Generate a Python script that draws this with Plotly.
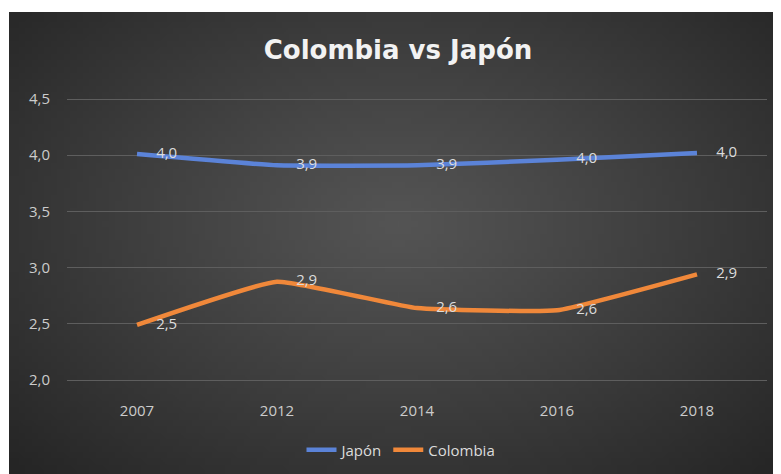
import base64, struct, zlib
import plotly.graph_objects as go

# ---- data ----
years = ["2007", "2012", "2014", "2016", "2018"]
japon = [4.01, 3.91, 3.91, 3.96, 4.02]
colombia = [2.49, 2.875, 2.64, 2.62, 2.94]
y_ticks = [2.0, 2.5, 3.0, 3.5, 4.0, 4.5]
y_tick_labels = ["2,0", "2,5", "3,0", "3,5", "4,0", "4,5"]

# page body has an 8px margin: figure occupies screen 8..781 x 8..474
OX, OY = 8, 8
W, H = 781 - OX, 474 - OY

def px(sx):
    return (sx - OX) / W

def py(sy):
    return 1 - (sy - OY) / H

# ---- radial gradient background as PNG ----
def make_png(w, h, c_center, c_edge):
    rows = []
    for j in range(h):
        row = bytearray([0])
        for i in range(w):
            dx = (i - w * 0.5) / (w * 0.5)
            dy = (j - h * 0.45) / (h * 0.55)
            d = min(1.0, ((dx * dx + dy * dy) / 2) ** 0.5)
            t = d ** 1.1
            for k in range(3):
                row.append(int(round(c_center[k] + (c_edge[k] - c_center[k]) * t)))
        rows.append(bytes(row))
    raw = b"".join(rows)
    def chunk(tag, data):
        c = struct.pack(">I", len(data)) + tag + data
        return c + struct.pack(">I", zlib.crc32(tag + data) & 0xffffffff)
    png = b"\x89PNG\r\n\x1a\n"
    png += chunk(b"IHDR", struct.pack(">IIBBBBB", w, h, 8, 2, 0, 0, 0))
    png += chunk(b"IDAT", zlib.compress(raw, 9))
    png += chunk(b"IEND", b"")
    return "data:image/png;base64," + base64.b64encode(png).decode()

bg = make_png(120, 72, (84, 84, 84), (36, 36, 36))

def fmt(v):
    return f"{v:.1f}".replace(".", ",")

fig = go.Figure()
for name, vals, color in (("Japón", japon, "#5B83D8"), ("Colombia", colombia, "#F0883A")):
    fig.add_trace(go.Scatter(x=years, y=vals, name=name, mode="lines",
                             line=dict(color=color, width=4.5, shape="spline", smoothing=0.35)))
for vals in (japon, colombia):
    fig.add_trace(go.Scatter(x=years, y=vals, mode="markers+text", showlegend=False,
                             hoverinfo="skip",
                             marker=dict(size=29, color="rgba(0,0,0,0)"),
                             text=[fmt(v) for v in vals], textposition="middle right",
                             textfont=dict(family="Open Sans", size=15, color="#dcdcdc")))

fig.update_layout(
    width=W, height=H,
    margin=dict(l=0, r=0, t=0, b=0, autoexpand=False),
    paper_bgcolor="white",
    plot_bgcolor="rgba(0,0,0,0)",
    images=[dict(source=bg, xref="paper", yref="paper", x=px(9), y=py(12),
                 sizex=1 - px(9), sizey=py(12), sizing="stretch",
                 xanchor="left", yanchor="top", layer="below")],
    title=dict(text="<b>Colombia vs Japón</b>", x=px(398), y=py(50),
               xanchor="center", yanchor="middle",
               font=dict(family="DejaVu Sans", size=26, color="#f2f2f2")),
    xaxis=dict(domain=[px(67), px(767)], type="category", range=[-0.5, 4.5],
               showgrid=False, showline=False, zeroline=False, ticks="",
               ticklabelstandoff=18,
               tickfont=dict(family="Open Sans", size=15, color="#cccccc")),
    yaxis=dict(domain=[py(382.25), py(96.75)], range=[1.98, 4.52], tickvals=y_ticks,
               ticktext=y_tick_labels, showgrid=True, gridcolor="#5e5e5e", gridwidth=1,
               zeroline=False, showline=False, ticks="", ticklabelstandoff=16,
               tickfont=dict(family="Open Sans", size=15, color="#cccccc")),
    legend=dict(orientation="h", x=px(401), y=py(450), xanchor="center",
                yanchor="middle", bgcolor="rgba(0,0,0,0)",
                font=dict(family="Open Sans", size=15, color="#dcdcdc")),
)

fig.write_html("out.html")
